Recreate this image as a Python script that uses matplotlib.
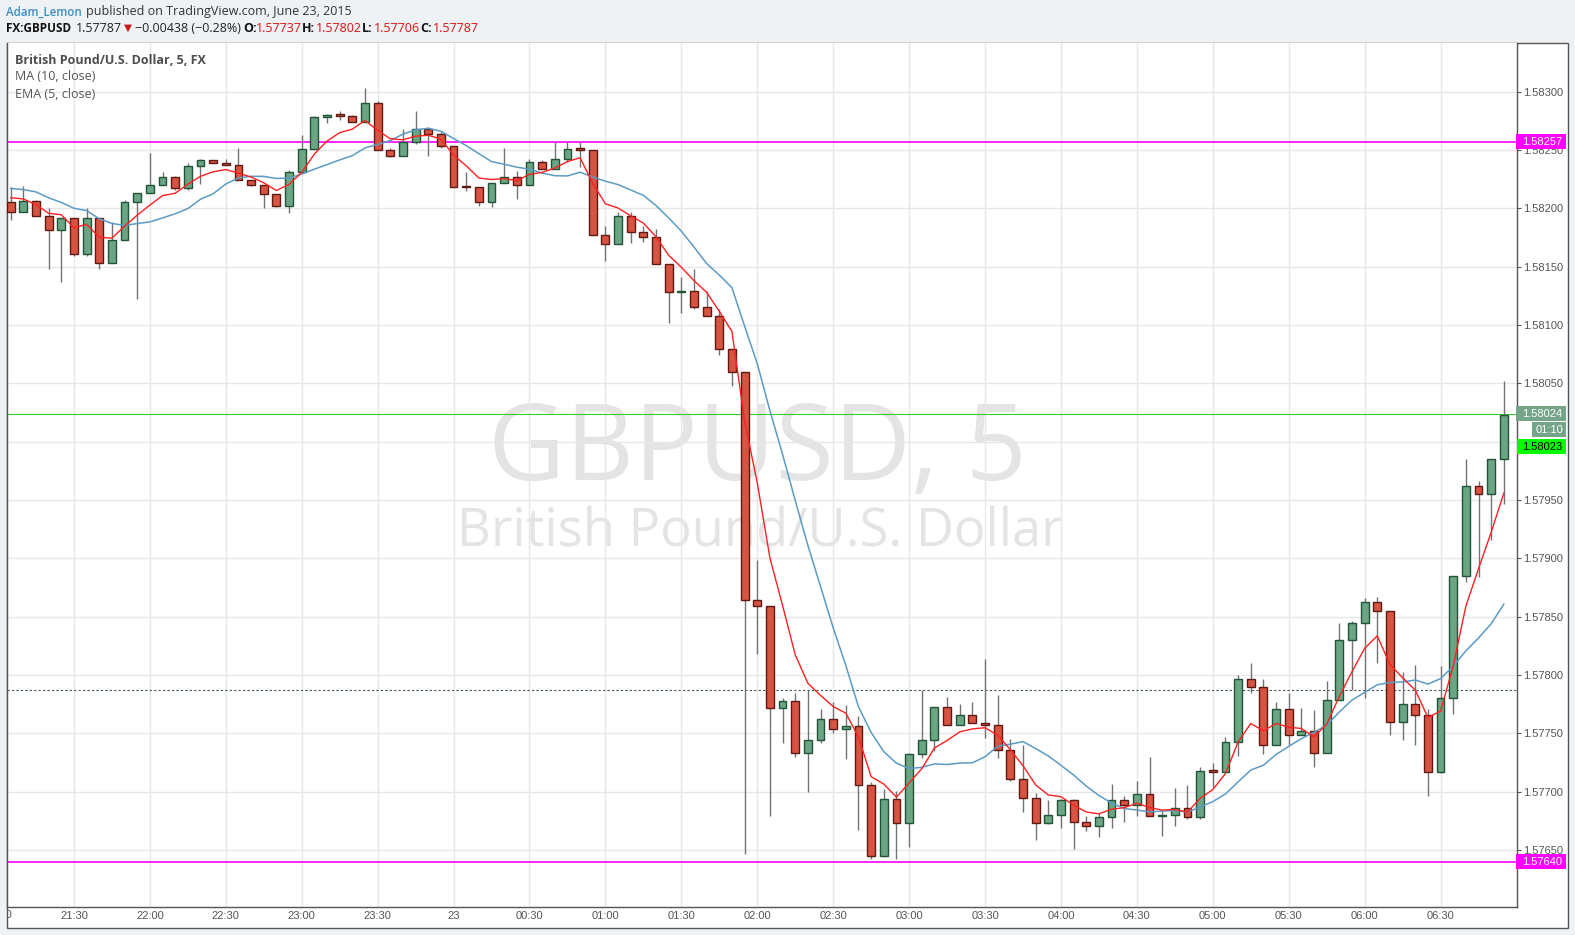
import matplotlib
matplotlib.use("Agg")
import matplotlib.pyplot as plt
import numpy as np
import pandas as pd
from matplotlib.patches import Rectangle
from matplotlib.transforms import Bbox, TransformedBbox, IdentityTransform

# ---------------- data (GBPUSD, 5 min) ----------------
start_time = "2015-06-22 21:05"
opens = [1.58205, 1.58197, 1.58206, 1.58193, 1.58181, 1.58192, 1.58161, 1.58192, 1.58153, 1.58173,
         1.58205, 1.58213, 1.58220, 1.58227, 1.58217, 1.58236, 1.58241, 1.58239, 1.58237, 1.58224,
         1.58220, 1.58212, 1.58202, 1.58231, 1.58251, 1.58278, 1.58280, 1.58279, 1.58274, 1.58290,
         1.58250, 1.58245, 1.58257, 1.58268, 1.58264, 1.58253, 1.58219, 1.58218, 1.58205, 1.58222,
         1.58227, 1.58220, 1.58240, 1.58234, 1.58242, 1.58251, 1.58250, 1.58177, 1.58169, 1.58193,
         1.58180, 1.58175, 1.58152, 1.58128, 1.58129, 1.58115, 1.58108, 1.58079, 1.58060, 1.57864,
         1.57859, 1.57772, 1.57778, 1.57733, 1.57744, 1.57762, 1.57754, 1.57756, 1.57706, 1.57645,
         1.57694, 1.57673, 1.57732, 1.57744, 1.57773, 1.57757, 1.57766, 1.57759, 1.57757, 1.57736,
         1.57711, 1.57695, 1.57673, 1.57680, 1.57693, 1.57674, 1.57671, 1.57678, 1.57693, 1.57689,
         1.57698, 1.57679, 1.57680, 1.57686, 1.57678, 1.57718, 1.57717, 1.57743, 1.57797, 1.57790,
         1.57740, 1.57771, 1.57749, 1.57752, 1.57733, 1.57779, 1.57830, 1.57845, 1.57863, 1.57855,
         1.57760, 1.57775, 1.57766, 1.57717, 1.57780, 1.57885, 1.57962, 1.57955, 1.57985]
highs = [1.58218, 1.58219, 1.58207, 1.58200, 1.58192, 1.58192, 1.58200, 1.58192, 1.58188, 1.58207,
         1.58213, 1.58247, 1.58231, 1.58228, 1.58239, 1.58242, 1.58241, 1.58242, 1.58252, 1.58224,
         1.58220, 1.58212, 1.58233, 1.58263, 1.58279, 1.58281, 1.58283, 1.58280, 1.58303, 1.58292,
         1.58252, 1.58268, 1.58283, 1.58270, 1.58265, 1.58253, 1.58231, 1.58218, 1.58222, 1.58252,
         1.58232, 1.58242, 1.58241, 1.58257, 1.58257, 1.58257, 1.58250, 1.58185, 1.58197, 1.58197,
         1.58185, 1.58182, 1.58152, 1.58141, 1.58148, 1.58129, 1.58114, 1.58079, 1.58060, 1.57899,
         1.57859, 1.57780, 1.57785, 1.57787, 1.57771, 1.57777, 1.57774, 1.57765, 1.57708, 1.57702,
         1.57701, 1.57733, 1.57787, 1.57773, 1.57781, 1.57775, 1.57777, 1.57814, 1.57783, 1.57745,
         1.57740, 1.57699, 1.57693, 1.57694, 1.57694, 1.57679, 1.57682, 1.57707, 1.57696, 1.57709,
         1.57730, 1.57684, 1.57703, 1.57706, 1.57721, 1.57725, 1.57747, 1.57800, 1.57810, 1.57797,
         1.57777, 1.57785, 1.57772, 1.57770, 1.57795, 1.57845, 1.57846, 1.57866, 1.57867, 1.57855,
         1.57803, 1.57809, 1.57771, 1.57808, 1.57885, 1.57985, 1.57966, 1.57985, 1.58052]
lows = [1.58190, 1.58197, 1.58193, 1.58148, 1.58137, 1.58159, 1.58159, 1.58148, 1.58153, 1.58173,
        1.58122, 1.58213, 1.58220, 1.58216, 1.58216, 1.58221, 1.58239, 1.58237, 1.58224, 1.58219,
        1.58200, 1.58201, 1.58196, 1.58231, 1.58251, 1.58273, 1.58276, 1.58274, 1.58274, 1.58250,
        1.58244, 1.58245, 1.58255, 1.58245, 1.58252, 1.58218, 1.58215, 1.58202, 1.58201, 1.58222,
        1.58208, 1.58220, 1.58234, 1.58234, 1.58240, 1.58235, 1.58177, 1.58155, 1.58169, 1.58170,
        1.58171, 1.58152, 1.58102, 1.58110, 1.58114, 1.58108, 1.58074, 1.58048, 1.57647, 1.57818,
        1.57679, 1.57742, 1.57730, 1.57700, 1.57742, 1.57750, 1.57728, 1.57667, 1.57642, 1.57644,
        1.57642, 1.57653, 1.57729, 1.57735, 1.57757, 1.57757, 1.57759, 1.57746, 1.57729, 1.57709,
        1.57683, 1.57659, 1.57672, 1.57669, 1.57651, 1.57666, 1.57661, 1.57669, 1.57674, 1.57679,
        1.57679, 1.57662, 1.57671, 1.57677, 1.57677, 1.57704, 1.57717, 1.57731, 1.57785, 1.57732,
        1.57740, 1.57740, 1.57749, 1.57721, 1.57733, 1.57779, 1.57787, 1.57780, 1.57810, 1.57749,
        1.57744, 1.57740, 1.57696, 1.57716, 1.57767, 1.57880, 1.57884, 1.57916, 1.57947]
closes = [1.58197, 1.58206, 1.58193, 1.58181, 1.58192, 1.58161, 1.58192, 1.58153, 1.58173, 1.58205,
          1.58213, 1.58220, 1.58227, 1.58217, 1.58236, 1.58241, 1.58239, 1.58237, 1.58224, 1.58220,
          1.58212, 1.58202, 1.58231, 1.58251, 1.58278, 1.58280, 1.58279, 1.58274, 1.58290, 1.58250,
          1.58245, 1.58257, 1.58268, 1.58264, 1.58253, 1.58218, 1.58218, 1.58205, 1.58222, 1.58227,
          1.58220, 1.58240, 1.58234, 1.58242, 1.58251, 1.58250, 1.58177, 1.58169, 1.58193, 1.58180,
          1.58175, 1.58152, 1.58128, 1.58129, 1.58115, 1.58108, 1.58079, 1.58060, 1.57864, 1.57859,
          1.57772, 1.57778, 1.57733, 1.57744, 1.57762, 1.57754, 1.57756, 1.57706, 1.57645, 1.57694,
          1.57673, 1.57732, 1.57744, 1.57773, 1.57757, 1.57766, 1.57759, 1.57757, 1.57736, 1.57711,
          1.57695, 1.57673, 1.57680, 1.57693, 1.57674, 1.57671, 1.57678, 1.57693, 1.57689, 1.57698,
          1.57679, 1.57680, 1.57686, 1.57678, 1.57718, 1.57717, 1.57743, 1.57797, 1.57790, 1.57740,
          1.57771, 1.57749, 1.57752, 1.57733, 1.57779, 1.57830, 1.57845, 1.57863, 1.57855, 1.57760,
          1.57775, 1.57766, 1.57717, 1.57780, 1.57885, 1.57962, 1.57955, 1.57985, 1.58023]
# indicator values before full history is visible
ma10_head = [1.58217, 1.58216, 1.58214, 1.58209, 1.58205, 1.58200, 1.58198, 1.58191, 1.58187]
ema5_first = 1.58209

hlines_magenta = [1.58257, 1.57640]
bid_line = 1.58024
last_price = 1.58023
cursor_close = 1.57787
countdown = "01:10"
price_ticks = [1.57650, 1.57700, 1.57750, 1.57800, 1.57850, 1.57900, 1.57950,
               1.58000, 1.58050, 1.58100, 1.58150, 1.58200, 1.58250, 1.58300]
hidden_tick_labels = [1.58000]   # covered by the last-price label in the original

# ---------------- derived ----------------
n = len(closes)
times = pd.date_range(start_time, periods=n, freq="5min")
cl = pd.Series(closes)
ma10 = cl.rolling(10).mean().to_numpy()
ma10[:9] = ma10_head
ema5 = np.empty(n)
ema5[0] = ema5_first
for i in range(1, n):
    ema5[i] = ema5[i - 1] + (closes[i] - ema5[i - 1]) / 3.0

# ---------------- figure ----------------
W, H = 1575, 935
fig = plt.figure(figsize=(W / 100, H / 100), dpi=100, facecolor="#eef2f5")

def fx(px):
    return px / W

def fy(py):
    return 1 - py / H

outer = Rectangle((fx(6.5), fy(928)), fx(1568) - fx(6.5), fy(43) - fy(928),
                  transform=fig.transFigure, facecolor="white", edgecolor="#555555",
                  lw=1.0, zorder=-5)
fig.patches.append(outer)

ax = fig.add_axes([fx(7), fy(907), fx(1517) - fx(7), fy(43) - fy(907)])
ax.set_zorder(1)
ax.set_facecolor("white")
ax.set_xlim(-0.29, 119.04)
ax.set_ylim(1.576013, 1.583416)

for s in ["left", "bottom", "right"]:
    ax.spines[s].set_color("#555555")
    ax.spines[s].set_linewidth(1.0)
ax.spines["top"].set_visible(False)

# grid / ticks
ax.yaxis.tick_right()
ax.set_yticks(price_ticks)
ax.set_yticklabels(["" if p in hidden_tick_labels else f"{p:.5f}" for p in price_ticks])
ax.tick_params(axis="y", length=3, width=0.8, color="#555555", pad=1.5,
               labelsize=8, labelcolor="#555555")
for lab in ax.get_yticklabels():
    lab.set_family("Liberation Sans")

xt_pos, xt_lab = [], []
for i, t in enumerate(times):
    if t.minute % 30 == 0:
        xt_pos.append(i)
        xt_lab.append("23" if (t.hour == 0 and t.minute == 0) else t.strftime("%H:%M"))
ax.set_xticks(xt_pos)
ax.set_xticklabels(xt_lab)
ax.tick_params(axis="x", length=0, pad=3, labelsize=8, labelcolor="#555555")
for lab in ax.get_xticklabels():
    lab.set_family("Liberation Sans")
ax.grid(True, color="#e7e7e7", lw=1.0, zorder=0)
ax.set_axisbelow(True)
ax.axvline(-1, color="#e7e7e7", lw=1.0, zorder=0)

# clipped first time label (21:00), partly hidden at the left edge as in the original
px_first = ax.transData.transform((-1, 0))[0]
t0 = fig.text(fx(px_first), fy(915), (times[0] - pd.Timedelta("5min")).strftime("%H:%M"),
              ha="center", va="center", fontsize=8, color="#555555", family="Liberation Sans")
t0.set_clip_box(TransformedBbox(Bbox.from_extents(fx(7.5), 0, 1, 1), fig.transFigure))
t0.set_clip_on(True)

# watermark
ax.text(0.4967, 0.4942, "GBPUSD, 5", transform=ax.transAxes, ha="center", va="baseline",
        fontsize=76.5, color="#e4e4e4", family="Open Sans", zorder=0.5)
ax.text(0.4985, 0.4178, "British Pound/U.S. Dollar", transform=ax.transAxes, ha="center",
        va="baseline", fontsize=37.8, color="#e4e4e4", family="Open Sans", zorder=0.5)

# horizontal lines
for p in hlines_magenta:
    ax.axhline(p, color="#ff00ff", lw=1.2, zorder=2)
ax.axhline(bid_line, color="#33cc33", lw=0.8, zorder=2)
ax.axhline(cursor_close, color="#3d5a4a", lw=0.8, ls=(0, (2, 2)), zorder=2)

# candles
x = np.arange(n)
up_body, up_edge = "#6ba583", "#225437"
dn_body, dn_edge = "#d75442", "#5e1a12"
ax.vlines(x, lows, highs, color="#737375", lw=1.0, zorder=3)
o = np.array(opens)
c = np.array(closes)
is_up = c >= o
bottoms = np.minimum(o, c)
heights = np.maximum(np.abs(c - o), 0.000015)
ax.bar(x[is_up], heights[is_up], bottom=bottoms[is_up], width=0.62,
       color=up_body, edgecolor=up_edge, lw=1.0, zorder=4)
ax.bar(x[~is_up], heights[~is_up], bottom=bottoms[~is_up], width=0.62,
       color=dn_body, edgecolor=dn_edge, lw=1.0, zorder=4)

# indicators
ax.plot(x, ma10, color="#5b9bc6", lw=1.1, zorder=5)
ax.plot(x, ema5, color="#ff2020", lw=1.0, zorder=5)

# legend texts in pane
fig.text(fx(15), fy(60), "British Pound/U.S. Dollar, 5, FX", fontsize=9, fontweight="bold",
         color="#4d4d4d", family="Open Sans", va="center", ha="left", zorder=12)
fig.text(fx(15), fy(77), "MA (10, close)", fontsize=9, color="#555555",
         family="Open Sans", va="center", ha="left", zorder=12)
fig.text(fx(15), fy(94), "EMA (5, close)", fontsize=9, color="#555555",
         family="Open Sans", va="center", ha="left", zorder=12)

# right-side price labels
def price_px(p):
    return ax.transData.transform((0, p))[1]  # display y (from bottom)

def label_box(ycen_disp, x0, x1, text, fc, tc, ha="left", tx=1522, h=15):
    r = Rectangle((x0, ycen_disp - h / 2), x1 - x0, h, transform=IdentityTransform(),
                  facecolor=fc, edgecolor="none", zorder=10)
    fig.patches.append(r)
    xt = tx if ha == "left" else (x0 + x1) / 2
    fig.text(xt / W, ycen_disp / H, text, fontsize=8, color=tc, family="Liberation Sans",
             ha=ha, va="center", zorder=11)

for p in hlines_magenta:
    label_box(price_px(p), 1516, 1566, f"{p:.5f}", "#ff00ff", "white")
yb = price_px(bid_line)
label_box(yb, 1516, 1566, f"{bid_line:.5f}", "#74a589", "white")
label_box(yb - 16, 1532, 1566, countdown, "#74a589", "white", ha="center")
label_box(yb - 33, 1517, 1566, f"{last_price:.5f}", "#00ff00", "black")

# header
def piece(xp, yp, s, color="#222222", weight="normal", size=9):
    fig.text(fx(xp), fy(yp), s, fontsize=size, color=color, fontweight=weight,
             family=["Open Sans", "DejaVu Sans"], va="center", ha="left")

piece(6, 12, "Adam_Lemon", color="#3a8fc4", weight="semibold", size=8.3)
piece(86, 12, "published on TradingView.com, June 23, 2015", color="#333333")
red = "#e01010"
piece(6, 29, "FX:GBPUSD", color="#111111", weight="bold", size=8.5)
piece(76, 29, "1.57787", color="#222222")
piece(124, 28.5, "\u25BC", color="#cc1a1a", size=7.5)
piece(135, 29, "\u22120.00438 (\u22120.28%)", color="#222222")
piece(243, 29, "O:", color="#111111", weight="bold")
piece(256, 29, "1.57737", color=red)
piece(302, 29, "H:", color="#111111", weight="bold")
piece(316, 29, "1.57802", color=red)
piece(362, 29, "L:", color="#111111", weight="bold")
piece(374, 29, "1.57706", color=red)
piece(420, 29, "C:", color="#111111", weight="bold")
piece(433, 29, "1.57787", color=red)

fig.savefig("out.png", dpi=100, facecolor=fig.get_facecolor())
